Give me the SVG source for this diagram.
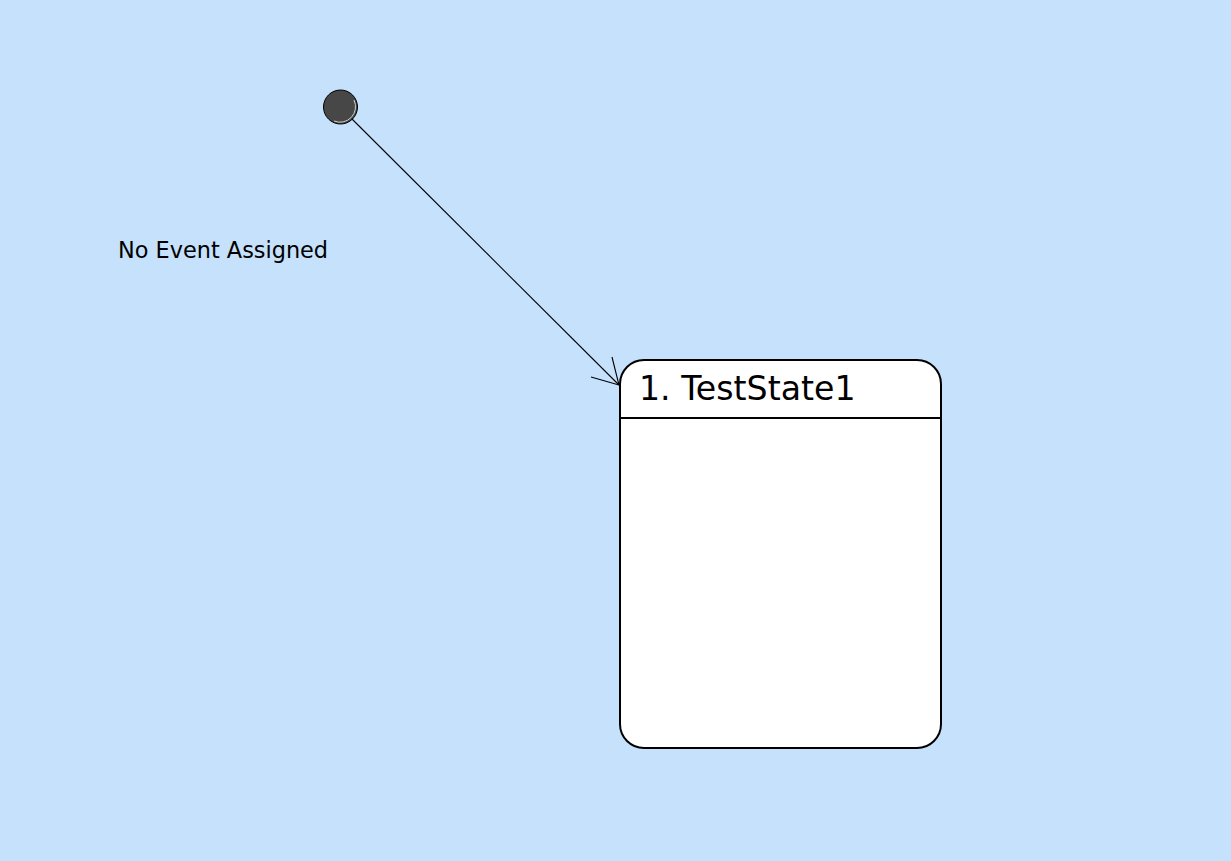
<svg xmlns="http://www.w3.org/2000/svg" width="1231" height="861" viewBox="0 0 1231 861">
<style>
.bg{fill:#c5e1fc}
.state{fill:#ffffff;stroke:#000000;stroke-width:2}
.sep{stroke:#000000;stroke-width:2}
.title{font-family:"DejaVu Sans",sans-serif;font-size:33.2px;fill:#000000}
.label{font-family:"DejaVu Sans",sans-serif;font-size:22.4px;fill:#000000}
.conn{stroke:#000000;stroke-width:1.1;fill:none}
.init{fill:#474747;stroke:#000000;stroke-width:1}
</style>
<rect class="bg" x="0" y="0" width="1231" height="861"/>
<g id="initial">
<circle class="init" cx="340.5" cy="107" r="17"/>
<path d="M 354 100 A 15.5 15.5 0 0 1 334 121" stroke="#d0d0d0" stroke-width="1" fill="none"/>
</g>
<g id="connectors">
<line class="conn" x1="352" y1="119" x2="619" y2="385"/>
<polyline class="conn" points="612,357 619,385 591,377"/>
</g>
<g id="label-no-event">
<text class="label" x="118" y="258">No Event Assigned</text>
</g>
<g id="state1">
<rect class="state" x="620" y="360" width="321" height="388" rx="24" ry="24"/>
<line class="sep" x1="620" y1="418" x2="941" y2="418"/>
<text class="title" x="639" y="400">1. TestState1</text>
</g>
</svg>
